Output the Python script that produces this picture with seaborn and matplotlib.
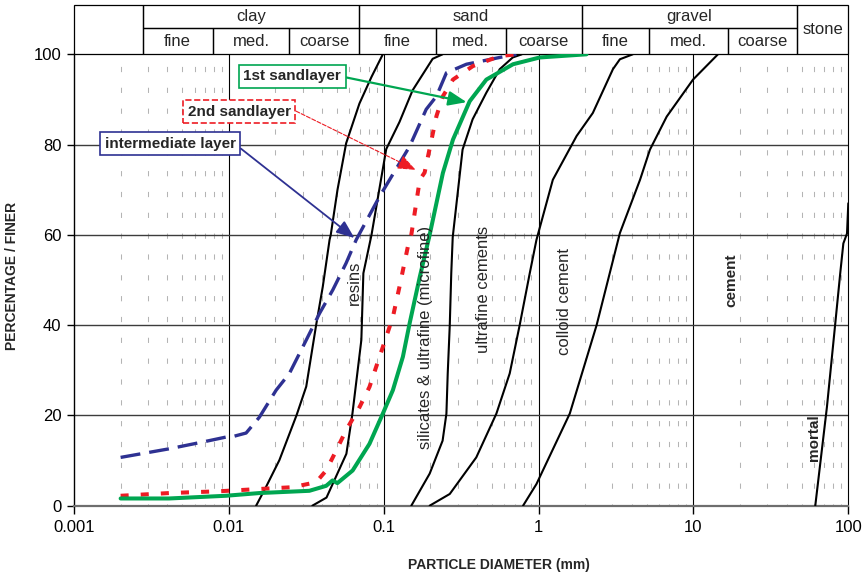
import matplotlib
matplotlib.use("Agg")
import matplotlib.pyplot as plt
import matplotlib.transforms as mtransforms
from matplotlib.patches import Rectangle
from matplotlib.ticker import NullLocator
import pandas as pd
import seaborn as sns

# ---- grain-size curves of the soil layers (diameter in mm, percentage finer) ----
sand1_d = [0.002, 0.00411, 0.00957, 0.01574, 0.0331, 0.0425, 0.0467, 0.0502, 0.0630,
           0.0809, 0.0987, 0.1146, 0.133, 0.147, 0.171, 0.198, 0.241, 0.280, 0.359,
           0.460, 0.684, 1.018, 2.04]
sand1_p = [1.6, 1.6, 2.2, 2.8, 3.3, 4.4, 5.6, 5.0, 7.8, 13.7, 20.4, 25.6, 33, 40.4,
           50.7, 60, 73.7, 81.1, 89.6, 94.4, 97.8, 99.3, 100]

sand2_d = [0.002, 0.00411, 0.00867, 0.01574, 0.0258, 0.0366, 0.0425, 0.0493, 0.0571,
           0.0697, 0.0809, 0.0940, 0.1038, 0.1146, 0.1264, 0.1432, 0.1507, 0.171,
           0.1837, 0.219, 0.241, 0.280, 0.377, 0.561, 0.719]
sand2_p = [2.2, 2.8, 3.2, 3.7, 4.1, 5.2, 7.8, 12.2, 16.7, 21.8, 26.3, 33, 37.4, 41.8,
           48.5, 57.4, 60, 72.2, 73.8, 86.3, 90.7, 94.4, 97.4, 99.6, 100]

inter_d = [0.002, 0.00411, 0.00676, 0.00957, 0.01056, 0.01292, 0.01574, 0.0202, 0.0246,
           0.0316, 0.0385, 0.0469, 0.0571, 0.0664, 0.0940, 0.147, 0.188, 0.219, 0.254,
           0.342, 0.561, 0.719]
inter_p = [10.7, 12.6, 14.1, 15.2, 15.3, 16.1, 19.6, 25.6, 29.3, 36.7, 42.6, 47.8, 53.7,
           58.9, 68.5, 79.6, 87.8, 90.7, 95.9, 97.8, 99.3, 100]

# ---- groutability limits of the injection materials ----
limit1_d = [0.0150, 0.0174, 0.0212, 0.0274, 0.0316, 0.0366, 0.0404, 0.0425, 0.0447,
            0.0455, 0.0503, 0.0572, 0.0697, 0.0834, 0.0987]
limit1_p = [0, 4.2, 10.1, 20.1, 26.4, 40, 48.5, 53.7, 58.9, 60, 70, 80.3, 89.1, 95, 100]

limit2_d = [0.0346, 0.0427, 0.0574, 0.0628, 0.0717, 0.0739, 0.0834, 0.1038, 0.1264,
            0.1535, 0.207, 0.24]
limit2_p = [0, 1.8, 11.5, 20.4, 36.7, 51.5, 60, 79, 85, 92, 99, 100]

limit3_d = [0.1507, 0.198, 0.240, 0.254, 0.259, 0.267, 0.273, 0.279, 0.323, 0.375,
            0.460, 0.561, 0.681, 0.78]
limit3_p = [0, 7.1, 14.4, 20.4, 29.3, 40, 51.5, 59.5, 78.9, 85.6, 91.5, 96.7, 99.3, 100]

limit4_d = [0.198, 0.267, 0.396, 0.534, 0.651, 0.755, 0.877, 0.969, 1.236, 1.76, 2.24,
            3.02, 3.35, 4.06]
limit4_p = [0, 2.6, 10.7, 20.4, 29.3, 40, 51.5, 58.9, 72.2, 81.9, 87, 96.7, 98.9, 100]

limit5_d = [0.794, 0.969, 1.59, 2.37, 3.35, 4.52, 5.24, 6.72, 9.94, 14.4]
limit5_p = [0, 4.8, 20.4, 40, 60.4, 72.2, 78.9, 86.2, 94.4, 100]

limit6_d = [61.2, 72.8, 82.4, 88.7, 92.9, 98.1, 100]
limit6_p = [0, 21.9, 40.4, 51.5, 58.1, 60.3, 67.0]

# ---- soil classification header ----
main_edges = [0.001, 0.00277, 0.0697, 1.894, 46.6, 100]
main_names = ["", "clay", "sand", "gravel", "stone"]
sub_edges = [0.00277, 0.00785, 0.0246, 0.0697, 0.2163, 0.614, 1.894, 5.16, 16.8, 46.6]
sub_names = ["fine", "med.", "coarse"] * 3

x_ticks = [0.001, 0.01, 0.1, 1, 10, 100]
x_tick_labels = ["0.001", "0.01", "0.1", "1", "10", "100"]
y_ticks = [0, 20, 40, 60, 80, 100]

sns.set_style("white")
plt.rcParams["font.family"] = ["Liberation Sans", "DejaVu Sans"]

W, H = 866, 574
fig = plt.figure(figsize=(W / 100, H / 100), dpi=100)
ax_l, ax_r, ax_b, ax_t = 74, 848.3, 505.7, 54.3
ax = fig.add_axes([ax_l / W, 1 - ax_b / H, (ax_r - ax_l) / W, (ax_b - ax_t) / H])
ax.set_xscale("log")
ax.set_xlim(0.001, 100)
ax.set_ylim(0, 100)

# grid
for dec in [0.001, 0.01, 0.1, 1, 10]:
    for m in range(2, 10):
        ax.axvline(dec * m, color="#b4b4b4", lw=0.75, ls=(3, (5, 15)), zorder=1)
for dec in [0.01, 0.1, 1, 10, 100]:
    ax.axvline(dec, color="black", lw=0.8, zorder=1.5, clip_on=False)
for yv in [20, 40, 60, 80]:
    ax.axhline(yv, color="#3c3c3c", lw=1.0, zorder=1.5)

# limit curves
limits = [(limit1_d, limit1_p), (limit2_d, limit2_p), (limit3_d, limit3_p),
          (limit4_d, limit4_p), (limit5_d, limit5_p), (limit6_d, limit6_p)]
for d, p in limits:
    sns.lineplot(x=d, y=p, ax=ax, sort=False, estimator=None, color="black",
                 lw=1.5, zorder=3)

# soil layers
sns.lineplot(x=inter_d, y=inter_p, ax=ax, sort=False, estimator=None,
             color="#2e3192", lw=2.4, zorder=4)
ax.lines[-1].set_linestyle((0, (6, 2.7)))
sns.lineplot(x=sand2_d, y=sand2_p, ax=ax, sort=False, estimator=None,
             color="#ed1c24", lw=2.9, zorder=4)
ax.lines[-1].set_linestyle((0, (2, 3)))
sns.lineplot(x=sand1_d, y=sand1_p, ax=ax, sort=False, estimator=None,
             color="#00a651", lw=2.9, zorder=5)

# material labels
lab_kw = dict(rotation=90, ha="center", va="center", fontsize=12, zorder=6)
ax.text(0.0648, 49.3, "resins", **lab_kw)
ax.text(0.1853, 37.2, "silicates & ultrafine (microfine)", **lab_kw)
ax.text(0.442, 48.0, "ultrafine cements", **lab_kw)
ax.text(1.476, 45.3, "colloid cement", **lab_kw)
ax.text(17.5, 50.0, "cement", fontweight="bold", **{**lab_kw, "fontsize": 11})
ax.text(59.7, 15.0, "mortal", fontweight="bold", **{**lab_kw, "fontsize": 11})

# callouts
def callout(text, xy, xytext, col, rel, ls="-", lw=1.5):
    ax.annotate(text, xy=xy, xytext=xytext, ha="center", va="center",
                fontsize=11, fontweight="bold", zorder=7,
                bbox=dict(boxstyle="square,pad=0.3", fc="white", ec=col, lw=1.2, ls=ls),
                arrowprops=dict(arrowstyle="-|>,head_length=1.0,head_width=0.4",
                                color=col, lw=lw, ls=ls, relpos=rel,
                                shrinkA=0, shrinkB=0, mutation_scale=11))

callout("1st sandlayer", (0.343, 89.4), (0.0257, 95.1), "#00a651", (1, 0.5), lw=1.6)
callout("2nd sandlayer", (0.1607, 74.4), (0.01167, 87.3), "#ed1c24", (1, 0.72),
        ls="--", lw=0.8)
callout("intermediate layer", (0.0647, 59.3), (0.00418, 80.2), "#2e3192", (1, 0.44),
        lw=1.3)

# header table
tr = mtransforms.blended_transform_factory(ax.transData, ax.transAxes)
span = ax_b - ax_t
y0, ymid, ytop = 1.0, (ax_b - 28) / span, (ax_b - 5) / span
for i, name in enumerate(main_names):
    a, b = main_edges[i], main_edges[i + 1]
    full = name in ("", "stone")
    lo = y0 if full else ymid
    ax.add_patch(Rectangle((a, lo), b - a, ytop - lo, transform=tr, fill=False,
                           ec="black", lw=0.9, clip_on=False))
    if name:
        xc = (a * b) ** 0.5
        ax.text(xc, (lo + ytop) / 2, name, transform=tr, ha="center", va="center",
                fontsize=12)
for i, name in enumerate(sub_names):
    a, b = sub_edges[i], sub_edges[i + 1]
    ax.add_patch(Rectangle((a, y0), b - a, ymid - y0, transform=tr, fill=False,
                           ec="black", lw=0.9, clip_on=False))
    ax.text((a * b) ** 0.5, (y0 + ymid) / 2, name, transform=tr, ha="center",
            va="center", fontsize=12)

# axes styling
ax.set_xticks(x_ticks)
ax.set_xticklabels(x_tick_labels)
ax.xaxis.set_minor_locator(NullLocator())
ax.set_yticks(y_ticks)
ax.tick_params(axis="x", direction="out", length=6, width=1, pad=4, labelsize=12,
               bottom=True, colors="black")
ax.tick_params(axis="y", direction="out", length=5, width=1, pad=4, labelsize=12,
               left=True, colors="black")
for s in ["top", "right"]:
    ax.spines[s].set_visible(False)
ax.spines["left"].set_color("black")
ax.spines["left"].set_linewidth(1.0)
ax.spines["bottom"].set_color("#6e6e6e")
ax.spines["bottom"].set_linewidth(1.6)
ax.set_xlabel("")
ax.set_ylabel("")

fig.text(499 / W, 1 - 565 / H, "PARTICLE DIAMETER (mm)", ha="center", va="center",
         fontsize=10, fontweight="bold")
fig.text(12 / W, 1 - 276 / H, "PERCENTAGE / FINER", ha="center", va="center",
         rotation=90, fontsize=10, fontweight="bold")

fig.savefig("out.png", dpi=100)
